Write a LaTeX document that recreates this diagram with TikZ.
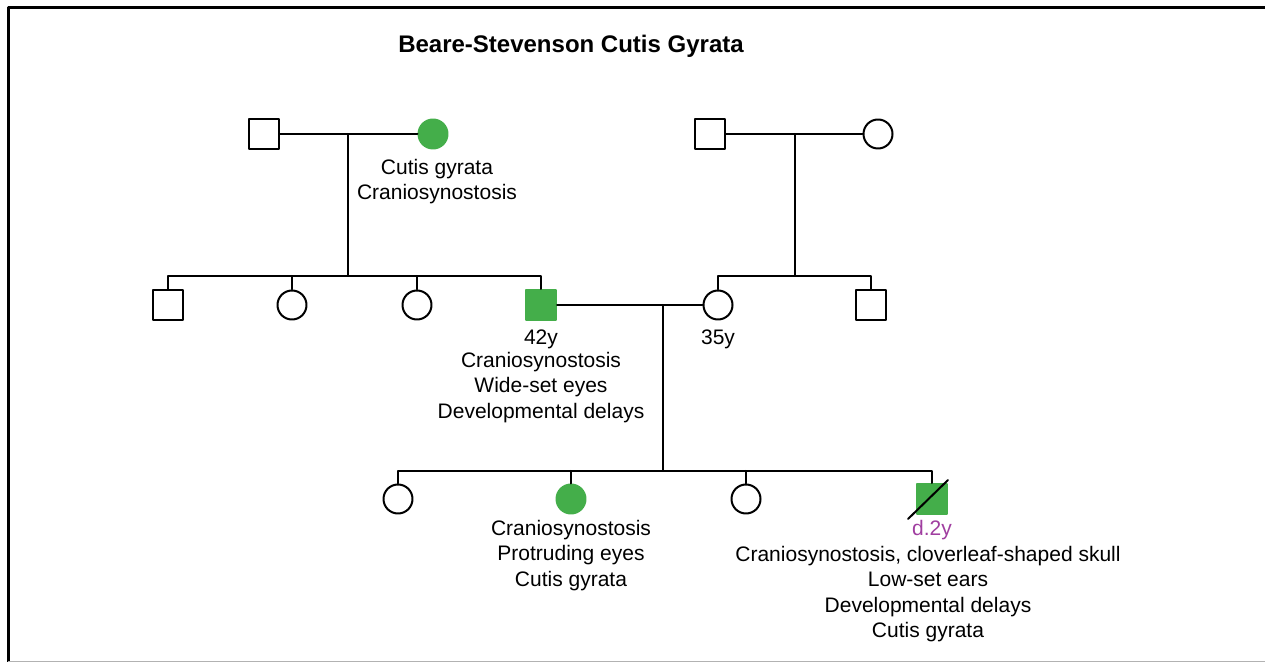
\documentclass[tikz,border=0pt]{standalone}
\usepackage{fontspec}
\setmainfont{Liberation Sans}
\usepackage{tikz}
\usetikzlibrary{positioning}
\definecolor{affgreen}{RGB}{68,174,74}
\definecolor{dpurple}{RGB}{160,62,160}
\tikzset{
  male/.style={draw,rectangle,minimum size=15pt,inner sep=0pt,line width=1pt},
  female/.style={draw,circle,minimum size=14.5pt,inner sep=0pt,line width=1pt},
  aff/.style={fill=affgreen,draw=affgreen},
  info/.style={align=center,anchor=north,inner sep=0pt,font=\fontsize{10.5}{12.75}\selectfont},
}

\begin{document}
\begin{tikzpicture}[line cap=round,line join=round,x=0.5pt,y=-0.5pt,line width=1pt]
\useasboundingbox (0,0) rectangle (1265,663);
% frame
\draw [line width=1.5pt,line cap=butt] (1266,8) -- (8,8) -- (8,662);
\draw [black!30,line width=0.6pt,line cap=butt] (8,661.6) -- (1266,661.6);
\node [font=\fontsize{12}{14}\selectfont\bfseries] (title) at (571,46) {Beare-Stevenson Cutis Gyrata};

% generation I
\node [male] (i1) at (264,134) {};
\node [female,aff] (i2) at (433,134) {};
\node [male] (i3) at (710,134) {};
\node [female] (i4) at (878,134) {};
\draw (i1.east) -- (i2.west);
\draw (i3.east) -- (i4.west);
\node [info] (i2txt) at (437,158) {Cutis gyrata\\Craniosynostosis};

% generation II
\node [male] (ii1) at (168,305) {};
\node [female] (ii2) at (292,305) {};
\node [female] (ii3) at (417,305) {};
\node [male,aff] (ii4) at (541,305) {};
\node [female] (ii5) at (718,305) {};
\node [male] (ii6) at (871,305) {};
\coordinate (s1) at (348,276);
\coordinate (s2) at (795,276);
\draw (s1 |- i1) -- (s1);
\draw (s2 |- i3) -- (s2);
\draw (ii1.north) |- (ii4.north |- s1) -- (ii4.north);
\draw (ii2.north) -- (ii2.north |- s1);
\draw (ii3.north) -- (ii3.north |- s1);
\draw (ii5.north) |- (ii6.north |- s2) -- (ii6.north);
\draw (ii4.east) -- (ii5.west);
\node [info] (ii4txt) at (541,329) {42y\\[-1.5pt]Craniosynostosis\\Wide-set eyes\\Developmental delays};
\node [info] (ii5txt) at (718,329) {35y};

% generation III
\node [female] (iii1) at (398,499) {};
\node [female,aff] (iii2) at (571,499) {};
\node [female] (iii3) at (746,499) {};
\node [male,aff] (iii4) at (932,499) {};
\coordinate (s3) at (663,471);
\draw (s3 |- ii4) -- (s3);
\draw (iii1.north) |- (iii4.north |- s3) -- (iii4.north);
\draw (iii2.north) -- (iii2.north |- s3);
\draw (iii3.north) -- (iii3.north |- s3);
\draw ([shift={(-24,20)}]iii4.center) -- ([shift={(16,-19)}]iii4.center);
\node [info] (iii2txt) at (571,519) {Craniosynostosis\\Protruding eyes\\Cutis gyrata};
\node [info,text=dpurple] (iii4age) at (932,519) {d.2y};
\node [info] (iii4txt) at (928,545) {Craniosynostosis, cloverleaf-shaped skull\\Low-set ears\\Developmental delays\\Cutis gyrata};
\end{tikzpicture}
\end{document}
